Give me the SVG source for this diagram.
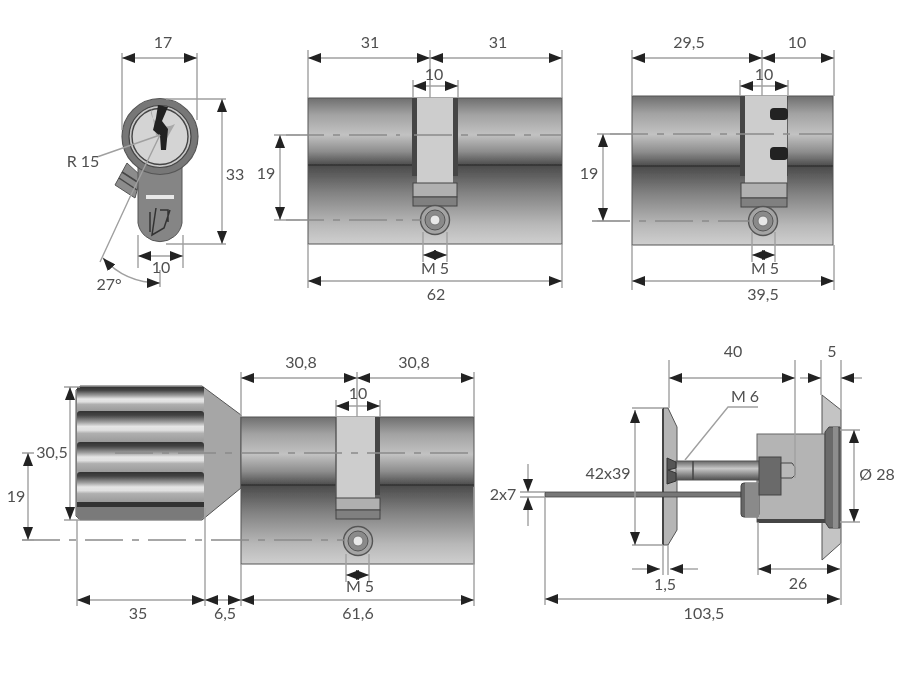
<svg xmlns="http://www.w3.org/2000/svg" width="922" height="690" viewBox="0 0 922 690">
<style>
text{font-family:"Lato","Open Sans","Liberation Sans",sans-serif;font-size:16px;fill:#505050;text-anchor:middle}
.d{fill:none;stroke:#a0a0a0;stroke-width:1.4}
.a{fill:none;stroke:#a0a0a0;stroke-width:1.4;marker-start:url(#as);marker-end:url(#ae)}
.h{fill:none;stroke:#a0a0a0;stroke-width:1.4;marker-end:url(#ae)}
.c{fill:none;stroke:#8a8a8a;stroke-width:1.3;stroke-dasharray:38 9 7 9}
.o{stroke:#555;stroke-width:1}
</style>
<defs>
<marker id="ae" markerUnits="userSpaceOnUse" markerWidth="14" markerHeight="10" refX="13" refY="5" orient="auto"><path d="M0 0L13 5L0 10z" fill="#222"/></marker>
<marker id="as" markerUnits="userSpaceOnUse" markerWidth="14" markerHeight="10" refX="1" refY="5" orient="auto"><path d="M14 0L1 5L14 10z" fill="#222"/></marker>
<linearGradient id="up" x1="0" y1="0" x2="0" y2="1"><stop offset="0" stop-color="#6f6f6f"/><stop offset=".25" stop-color="#a2a2a2"/><stop offset=".55" stop-color="#c2c2c2"/><stop offset=".8" stop-color="#8d8d8d"/><stop offset="1" stop-color="#4c4c4c"/></linearGradient>
<linearGradient id="lo" x1="0" y1="0" x2="0" y2="1"><stop offset="0" stop-color="#4a4a4a"/><stop offset=".35" stop-color="#828282"/><stop offset=".75" stop-color="#b8b8b8"/><stop offset="1" stop-color="#cfcfcf"/></linearGradient>
<linearGradient id="rib" x1="0" y1="0" x2="0" y2="1"><stop offset="0" stop-color="#333"/><stop offset=".14" stop-color="#444"/><stop offset=".36" stop-color="#a0a0a0"/><stop offset=".5" stop-color="#e6e6e6"/><stop offset=".62" stop-color="#e0e0e0"/><stop offset=".72" stop-color="#b0b0b0"/><stop offset="1" stop-color="#9a9a9a"/></linearGradient>
<linearGradient id="shaft" x1="0" y1="0" x2="0" y2="1"><stop offset="0" stop-color="#666"/><stop offset=".4" stop-color="#c8c8c8"/><stop offset="1" stop-color="#4e4e4e"/></linearGradient>
<filter id="soft" x="0" y="0" width="1" height="1"><feGaussianBlur stdDeviation="0.6"/></filter>
<g id="scr"><circle r="14.5" fill="#a4a4a4" stroke="#555" stroke-width="1.4"/><circle r="10" fill="#8a8a8a" stroke="#555"/><circle r="5" fill="#e8e8e8" stroke="#777"/></g>
</defs>
<rect width="922" height="690" fill="#fff"/>
<g filter="url(#soft)">
<g id="front-view">
<path d="M127 163L115 185L135 198L141 176z" fill="#8c8c8c" stroke="#555"/>
<path d="M119 178L137 190M122 172L139 183" stroke="#444" stroke-width="1.5"/>
<path d="M138 160V223A22.300 22.300 0 0 0 182 223V160z" fill="#858585" stroke="#555"/>
<circle cx="160" cy="136.500" r="38" fill="#777" stroke="#555" stroke-width="1.2"/>
<circle cx="160" cy="136.500" r="31" fill="#c8c8c8" stroke="#444" stroke-width="1.200"/>
<circle cx="160" cy="136.500" r="28" fill="#d4d4d4" stroke="#444" stroke-width="1.400"/>
<path d="M151 108A16 16 0 0 0 175 124L166 140L156 135z" fill="#a8a8a8"/>
<path d="M158 105L168 107L162 121L168 129L166 150L161 150L160 136L153 130L156 118z" fill="#222"/>
<rect x="146" y="195" width="28" height="4" fill="#e8e8e8"/>
<path d="M150 212L150 232M156 208L152 235L164 228L170 210M160 210H168V222" stroke="#333" stroke-width="1.500" fill="none"/>
</g>
<g id="cylinder-62">
<rect x="308" y="98" width="254" height="67" fill="url(#up)"/>
<rect x="308" y="165" width="254" height="79" fill="url(#lo)"/>
<rect x="308" y="98" width="254" height="146" class="o" fill="none"/>
<path d="M308 165H562" stroke="#333" stroke-width="1.500"/>
<rect x="412" y="98" width="6" height="78" fill="#444"/>
<rect x="452" y="98" width="6" height="78" fill="#444"/>
<rect x="417" y="98" width="36" height="85" fill="#cdcdcd"/>
<rect x="413" y="183" width="44" height="14" fill="#b0b0b0" stroke="#444"/>
<rect x="413" y="197" width="44" height="9" fill="#808080" stroke="#444"/>
<use href="#scr" x="435" y="220"/>
</g>
<g id="cylinder-39-5">
<rect x="632" y="96" width="201" height="70" fill="url(#up)"/>
<rect x="632" y="166" width="201" height="79" fill="url(#lo)"/>
<rect x="632" y="96" width="201" height="149" class="o" fill="none"/>
<path d="M632 166H833" stroke="#333" stroke-width="1.500"/>
<rect x="740" y="96" width="6" height="80" fill="#444"/>
<path d="M787 96V176" stroke="#444" stroke-width="1.500"/>
<rect x="745" y="96" width="42" height="87" fill="#cdcdcd"/>
<rect x="741" y="183" width="46" height="15" fill="#b0b0b0" stroke="#444"/>
<rect x="741" y="198" width="46" height="9" fill="#808080" stroke="#444"/>
<rect x="770" y="108" width="18" height="12" rx="4" fill="#222"/>
<rect x="770" y="147" width="18" height="13" rx="4" fill="#222"/>
<use href="#scr" x="763" y="221"/>
</g>
<g id="cylinder-knob">
<path d="M80 386H202L241 415V488L202 520H80L76 516V390z" fill="#a6a6a6" stroke="#555"/>
<rect x="77" y="387" width="127" height="24" fill="url(#rib)"/>
<rect x="77" y="411" width="127" height="31" rx="3" fill="url(#rib)"/>
<rect x="77" y="442" width="127" height="30" rx="3" fill="url(#rib)"/>
<rect x="77" y="472" width="127" height="30" rx="3" fill="url(#rib)"/>
<rect x="77" y="502" width="127" height="17" rx="3" fill="#7a7a7a"/>
<rect x="77" y="502" width="127" height="5" fill="#333"/>
<rect x="241" y="417" width="233" height="68" fill="url(#up)"/>
<rect x="241" y="485" width="233" height="79" fill="url(#lo)"/>
<rect x="241" y="417" width="233" height="147" class="o" fill="none"/>
<path d="M241 485H474" stroke="#333" stroke-width="1.500"/>
<rect x="375" y="417" width="5" height="78" fill="#444"/>
<rect x="336" y="417" width="39" height="81" fill="#cdcdcd"/>
<path d="M336 417V498" stroke="#555" stroke-width="1.400"/>
<rect x="336" y="498" width="44" height="12" fill="#b0b0b0" stroke="#444"/>
<rect x="336" y="510" width="44" height="9" fill="#808080" stroke="#444"/>
<use href="#scr" x="358" y="541"/>
</g>
<g id="side-view">
<path d="M663 408H668L677 427V530L668 545H663z" fill="#b5b5b5" stroke="#555"/>
<path d="M663 408V545" stroke="#444" stroke-width="2"/>
<rect x="545" y="492" width="196" height="5" fill="#777" stroke="#444" stroke-width=".8"/>
<path d="M822 395L841 410V543L822 560z" fill="#c4c4c4" stroke="#555"/>
<rect x="757" y="434" width="68" height="88" fill="#b4b4b4" stroke="#666"/>
<rect x="757" y="519" width="68" height="4" fill="#444"/>
<rect x="676" y="461" width="84" height="19" fill="url(#shaft)" stroke="#555"/>
<path d="M693 461V480" stroke="#444" stroke-width="1.500"/>
<path d="M667 458L676 462V468L668 470L676 473V481L667 484z" fill="#555" stroke="#333"/>
<rect x="741" y="483" width="18" height="34" rx="3" fill="#666" stroke="#444"/>
<rect x="745" y="483" width="14" height="34" fill="#8a8a8a"/>
<rect x="759" y="457" width="22" height="38" fill="#6a6a6a" stroke="#444"/>
<path d="M781 463H792L795 467V475L792 478H781z" fill="#b8b8b8" stroke="#444"/>
<path d="M825 432L829 427H840V528H829L825 522z" fill="#6a6a6a" stroke="#444"/>
<rect x="833" y="427" width="5" height="101" fill="#8d8d8d"/>
</g>
<g id="connectors">
<path class="c" d="M286 135H400M414 135H562"/>
<path class="c" d="M286 220H422"/>
<path class="c" d="M610 134H833"/>
<path class="c" d="M592 221H750"/>
<path class="c" d="M115 453H474"/>
<path class="c" d="M22 540H345"/>
<g class="d">
<path d="M122 53V130M197 53V120M166 99H226M166 244H226M138 235V268M183 235V268M97 157L160 135M160 135L130 197L100 262M160 270V287"/>
<path d="M308 50V98M430 50V98M562 50V98M413 80V98M458 80V98M308 244V288M562 244V288M423 232V262M447 232V262M274 135H300M274 220H300"/>
<path d="M632 50V96M762 50V96M834 50V96M740 80V96M788 80V96M632 245V290M834 245V290M752 232V262M775 232V262M597 134H620M597 221H620"/>
<path d="M241 372V417M357 372V417M474 372V417M336 400V417M380 400V417M241 564V606M474 487V606M77 520V606M205 508V606M346 554V582M369 554V582M64 387H80M64 520H80M22 453H34M22 540H34"/>
<path d="M669 360V408M795 360V478M821 360V395M841 360V410M632 408H663M632 545H663M685 460L728 407H758M520 492H545M520 497H545M840 430H860M840 522H860M663 545V575M668 545V575M758 522V575M841 543V605M545 497V605"/>
</g>
<path class="a" d="M122 58H197"/><path class="a" d="M222 99V244"/><path class="a" d="M138 256H183"/><path class="a" d="M103 258Q125 283 160 283"/>
<path class="a" d="M308 58H430"/><path class="a" d="M430 58H562"/><path class="a" d="M413 86H458"/><path class="a" d="M280 135V220"/><path class="a" d="M308 281H562"/><path class="a" d="M423 255H447"/>
<path class="a" d="M632 58H762"/><path class="a" d="M762 58H834"/><path class="a" d="M740 86H788"/><path class="a" d="M603 134V221"/><path class="a" d="M632 281H834"/><path class="a" d="M752 255H775"/>
<path class="a" d="M241 378H357"/><path class="a" d="M357 378H474"/><path class="a" d="M336 406H380"/><path class="a" d="M70 387V520"/><path class="a" d="M28 453V540"/><path class="a" d="M77 600H205"/><path class="a" d="M205 600H241"/><path class="a" d="M241 600H474"/><path class="a" d="M346 575H369"/>
<path class="a" d="M669 378H795"/><path class="a" d="M635 410V545"/><path class="a" d="M854 430V522"/><path class="a" d="M758 569H840"/><path class="a" d="M545 599H840"/>
<path class="h" d="M800 378H821"/><path class="h" d="M862 378H841"/>
<path class="h" d="M632 569H660"/><path class="h" d="M698 569H670"/>
<path class="h" d="M528 464V492"/><path class="h" d="M528 526V497"/>
</g>
<g id="labels">
<text x="163" y="48">17</text><text x="235" y="180">33</text><text x="161" y="273">10</text><text x="83" y="167">R 15</text><text x="109" y="290">27°</text>
<text x="370" y="48">31</text><text x="498" y="48">31</text><text x="434" y="80">10</text><text x="266" y="179">19</text><text x="435" y="274">M 5</text><text x="436" y="300">62</text>
<text x="689" y="48">29,5</text><text x="797" y="48">10</text><text x="764" y="80">10</text><text x="589" y="179">19</text><text x="765" y="274">M 5</text><text x="763" y="300">39,5</text>
<text x="301" y="368">30,8</text><text x="414" y="368">30,8</text><text x="358" y="399">10</text><text x="52" y="458">30,5</text><text x="16" y="502">19</text><text x="138" y="619">35</text><text x="225" y="619">6,5</text><text x="360" y="592">M 5</text><text x="358" y="619">61,6</text>
<text x="733" y="357">40</text><text x="832" y="357">5</text><text x="745" y="402">M 6</text><text x="608" y="479">42x39</text><text x="503" y="500">2x7</text><text x="877" y="480">Ø 28</text><text x="665" y="590">1,5</text><text x="798" y="589">26</text><text x="704" y="619">103,5</text>
</g>
</g>
</svg>
